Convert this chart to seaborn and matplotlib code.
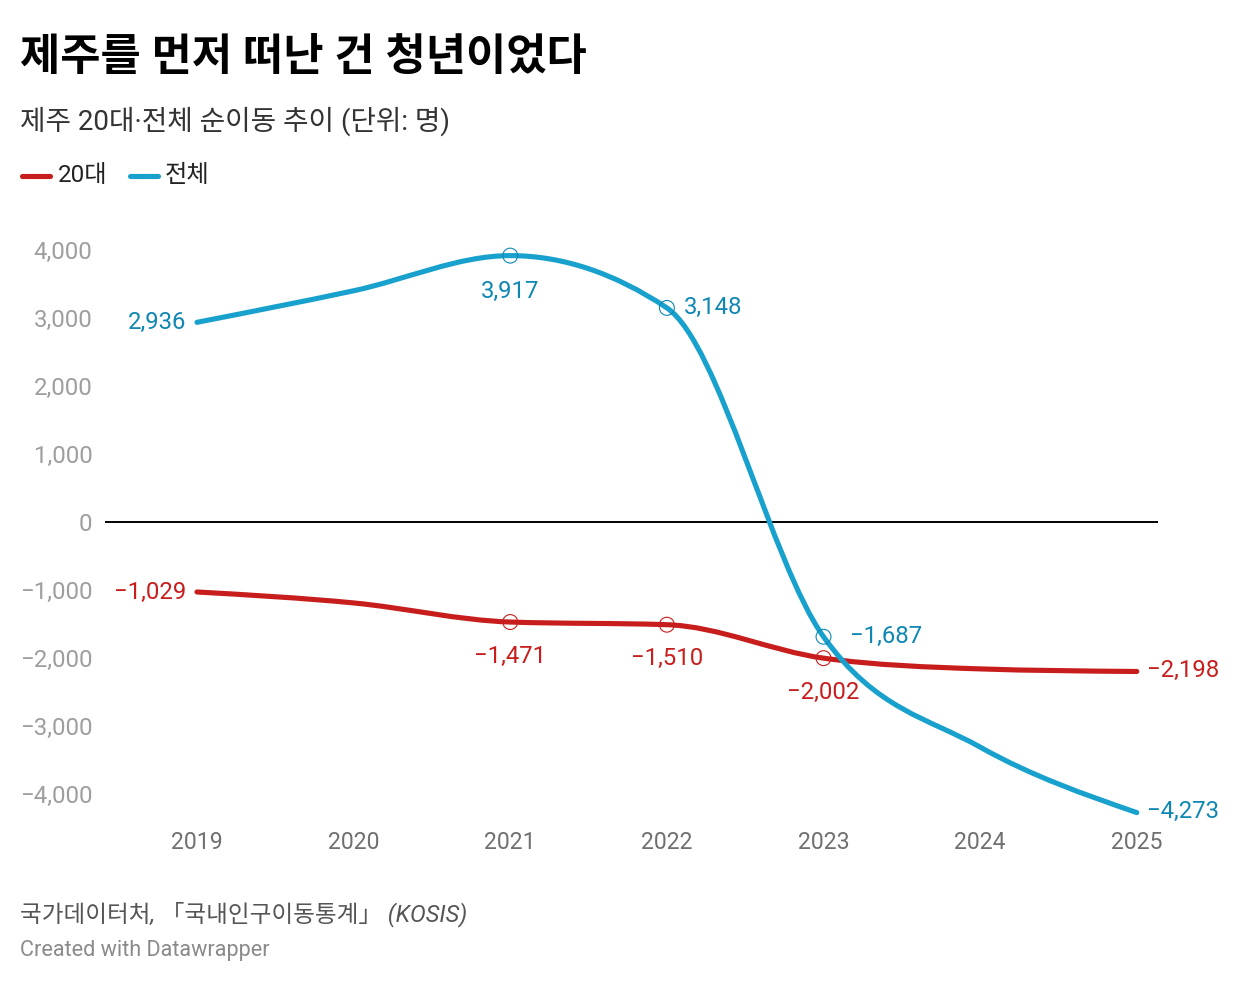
import numpy as np
import pandas as pd
import matplotlib
matplotlib.use("Agg")
import matplotlib.pyplot as plt
from matplotlib.path import Path
from matplotlib.patches import PathPatch
from matplotlib.lines import Line2D
from matplotlib.ticker import FuncFormatter
import seaborn as sns

# data (순이동, 명)
years = [2019, 2020, 2021, 2022, 2023, 2024, 2025]
age20 = [-1029, -1190, -1471, -1510, -2002, -2160, -2198]
total = [2936, 3400, 3917, 3148, -1687, -3310, -4273]
series_names = ["20대", "전체"]
marked_years = [2021, 2022, 2023]

RED = "#c71e1d"
BLUE = "#18a1cd"
BLUE_TXT = "#0f87b3"

sns.set_theme(style="white")
FONTS = ["Roboto", "Noto Sans CJK KR", "DejaVu Sans"]
plt.rcParams["font.family"] = FONTS
plt.rcParams["axes.unicode_minus"] = True


def monotone_path(xs, ys):
    # d3 curveMonotoneX as cubic bezier segments
    xs = np.asarray(xs, float)
    ys = np.asarray(ys, float)
    n = len(xs)
    h = np.diff(xs)
    s = np.diff(ys) / h
    t = np.zeros(n)
    for i in range(1, n - 1):
        p = (s[i - 1] * h[i] + s[i] * h[i - 1]) / (h[i - 1] + h[i])
        t[i] = (np.sign(s[i - 1]) + np.sign(s[i])) * min(abs(s[i - 1]), abs(s[i]), 0.5 * abs(p))
    t[0] = (3 * s[0] - t[1]) / 2
    t[-1] = (3 * s[-1] - t[-2]) / 2
    verts = [(xs[0], ys[0])]
    codes = [Path.MOVETO]
    for i in range(n - 1):
        dx = h[i] / 3
        verts += [(xs[i] + dx, ys[i] + dx * t[i]),
                  (xs[i + 1] - dx, ys[i + 1] - dx * t[i + 1]),
                  (xs[i + 1], ys[i + 1])]
        codes += [Path.CURVE4] * 3
    return Path(verts, codes)


fig = plt.figure(figsize=(12.4, 9.84), dpi=100)
ax = fig.add_axes([0.0847, 0.1585, 0.849, 0.6082])

ax.axhline(0, color="black", lw=1.4, zorder=1)

for vals, col in [(age20, RED), (total, BLUE)]:
    ax.add_patch(PathPatch(monotone_path(years, vals), fill=False, edgecolor=col,
                           lw=3.7, capstyle="round", joinstyle="round", zorder=3))

df = pd.DataFrame({"year": years * 2,
                   "value": age20 + total,
                   "series": [series_names[0]] * len(years) + [series_names[1]] * len(years)})
dm = df[df["year"].isin(marked_years)]
sns.scatterplot(data=dm, x="year", y="value", hue="series", palette={"20대": RED, "전체": BLUE_TXT},
                s=115, linewidth=0.8, legend=False, ax=ax, zorder=4)
# hollow markers: move the hue colour to the edge
pts = ax.collections[-1]
fc = pts.get_facecolors()
pts.set_edgecolors(fc)
pts.set_facecolors("none")

# value labels: (series, year index, dx, dy, ha)
label_spec = [
    (total, 0, -8, 0, "right"), (total, 2, 0, -26, "center"), (total, 3, 12, 0, "left"),
    (total, 4, 19, 0, "left"), (total, 6, 7, 1, "left"),
    (age20, 0, -8, 0, "right"), (age20, 2, 0, -25, "center"), (age20, 3, 0, -24, "center"),
    (age20, 4, 0, -25, "center"), (age20, 6, 7, 1, "left"),
]
for vals, i, dx, dy, ha in label_spec:
    col = BLUE_TXT if vals is total else RED
    txt = f"{vals[i]:,}".replace("-", "\u2212")
    ax.annotate(txt, (years[i], vals[i]), xytext=(dx, dy), textcoords="offset points",
                ha=ha, va="center", fontsize=17.2, color=col, zorder=5)

ax.set_xlim(2018.413, 2025.134)
ax.set_ylim(-4500, 4300)
ax.set_xticks(years)
ax.set_yticks(range(-4000, 4001, 1000))
ax.yaxis.set_major_formatter(FuncFormatter(lambda v, p: f"{v:,.0f}".replace("-", "\u2212")))
ax.tick_params(axis="y", length=0, pad=9, labelsize=17.3, labelcolor="#9e9e9e")
ax.tick_params(axis="x", length=0, pad=2, labelsize=16.6, labelcolor="#707070")
ax.set_xlabel("")
ax.set_ylabel("")
ax.grid(False)
sns.despine(ax=ax, left=True, bottom=True)

# header
fig.text(0.016, 0.941, "제주를 먼저 떠난 건 청년이었다", fontsize=31.5, fontweight="bold",
         color="black", va="center", ha="left")
fig.text(0.016, 0.877, "제주 20대·전체 순이동 추이 (단위: 명)", fontsize=20,
         color="#333333", va="center", ha="left")

# legend drawn in figure pixels
W, H = 1240, 984
for (x0, x1, tx), name, col in zip([(22, 50, 58), (130, 158, 165)], series_names, [RED, BLUE]):
    fig.add_artist(Line2D([x0 / W, x1 / W], [1 - 176 / H, 1 - 176 / H], color=col, lw=3.7,
                          solid_capstyle="round", transform=fig.transFigure))
    fig.text(tx / W, 1 - 176 / H, name, fontsize=17.5, color="#222222", va="center", ha="left")

# footer
fig.text(0.016, 0.071, "국가데이터처, 「국내인구이동통계」 (KOSIS)", fontsize=17, style="italic",
         color="#555555", va="center", ha="left")
fig.text(0.016, 0.034, "Created with Datawrapper", fontsize=15.6, color="#8a8a8a",
         va="center", ha="left")

fig.savefig("out.png", dpi=100)
